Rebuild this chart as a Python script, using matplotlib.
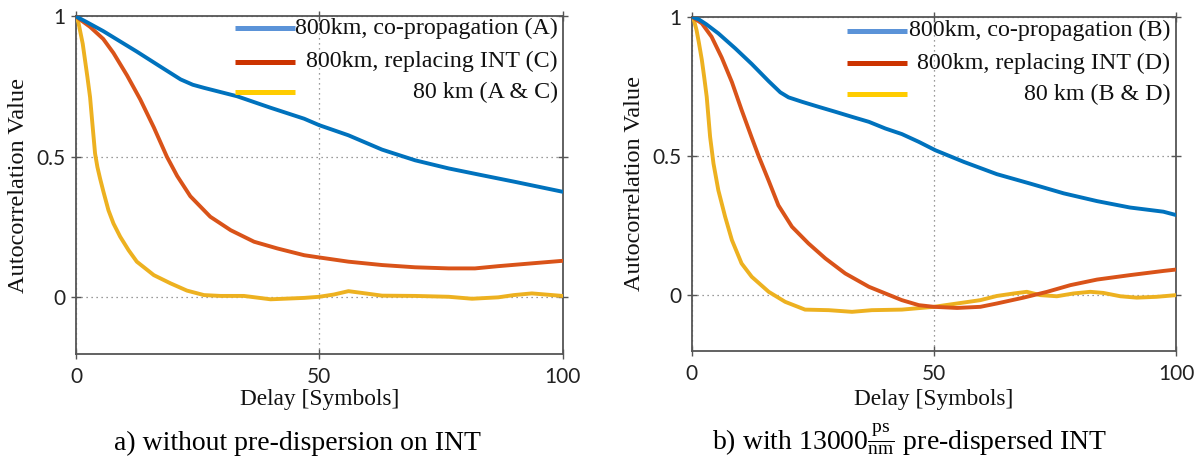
import matplotlib
matplotlib.use("Agg")
import matplotlib.pyplot as plt

# ---------------- data ----------------
# Panel a) without pre-dispersion on INT
a_copro_x = [0, 2, 5.6, 9, 12.5, 17.3, 21.5, 24, 26.3, 33.1, 40, 46.9, 50, 56, 62.9, 69.7, 76.6, 83.4, 90.3, 100]
a_copro_y = [1, 0.982, 0.948, 0.912, 0.875, 0.822, 0.776, 0.757, 0.746, 0.716, 0.675, 0.636, 0.613, 0.577, 0.526, 0.488, 0.459, 0.435, 0.411, 0.376]

a_repl_x = [0, 2.9, 5.6, 7.7, 10.5, 13.2, 16, 18.7, 20.8, 23.5, 27.6, 31.8, 36.6, 41.4, 46.9, 50, 56, 62.9, 69.7, 76.6, 82, 86.8, 93.7, 100]
a_repl_y = [1, 0.963, 0.92, 0.87, 0.79, 0.705, 0.605, 0.5, 0.432, 0.36, 0.287, 0.239, 0.198, 0.174, 0.150, 0.142, 0.127, 0.115, 0.107, 0.103, 0.103, 0.111, 0.121, 0.130]

a_80_x = [0, 0.48, 0.83, 1.38, 1.86, 2.34, 2.89, 3.37, 3.92, 4.4, 4.95, 5.64, 6.67, 7.7, 9.08, 10.8, 12.5, 16, 19.4, 22.8, 26.3, 29.7, 34.5, 40, 46.9, 50, 53, 56, 59.5, 62.9, 69.7, 76.6, 81.4, 86.8, 90, 93.7, 100]
a_80_y = [1, 0.98, 0.95, 0.903, 0.844, 0.785, 0.713, 0.618, 0.512, 0.464, 0.423, 0.376, 0.310, 0.263, 0.216, 0.168, 0.127, 0.079, 0.050, 0.024, 0.008, 0.005, 0.005, -0.007, -0.002, 0.002, 0.010, 0.022, 0.014, 0.006, 0.005, 0.002, -0.005, 0.0, 0.008, 0.014, 0.005]

# Panel b) with 13000 ps/nm pre-dispersed INT
b_copro_x = [0, 1.5, 3, 5.5, 9, 12.4, 15.9, 18.3, 20, 22.8, 26.2, 29.7, 33.1, 36.6, 40, 43.4, 46.9, 50.3, 56.2, 63, 69.9, 76.8, 83.7, 90.5, 97.4, 100]
b_copro_y = [1, 0.99, 0.973, 0.940, 0.886, 0.830, 0.768, 0.728, 0.710, 0.694, 0.676, 0.658, 0.640, 0.622, 0.598, 0.578, 0.550, 0.520, 0.478, 0.434, 0.400, 0.365, 0.337, 0.314, 0.299, 0.287]

b_repl_x = [0, 2.1, 4.1, 6.2, 8.3, 10.3, 12.4, 13.8, 15.9, 17.9, 20.7, 24.1, 27.6, 31.7, 36.6, 40, 43.4, 46.9, 50, 54.8, 59.6, 63, 68.5, 73.4, 78.2, 83.7, 90.5, 97.4, 100]
b_repl_y = [1, 0.976, 0.928, 0.853, 0.765, 0.665, 0.565, 0.5, 0.41, 0.322, 0.245, 0.185, 0.131, 0.077, 0.029, 0.005, -0.019, -0.037, -0.043, -0.047, -0.043, -0.031, -0.010, 0.011, 0.035, 0.055, 0.071, 0.086, 0.091]

b_80_x = [0, 0.5, 1, 1.5, 2.1, 2.6, 3.1, 3.8, 4.5, 5.5, 6.9, 8.3, 10.3, 12.4, 15.9, 19.3, 23.4, 28.3, 33.1, 37.2, 43.4, 50, 54.8, 59.6, 63, 66.5, 69.2, 72, 75.4, 78.8, 82.3, 85, 88.5, 91.9, 96, 100]
b_80_y = [1, 0.985, 0.952, 0.905, 0.844, 0.78, 0.712, 0.568, 0.472, 0.376, 0.281, 0.197, 0.113, 0.065, 0.011, -0.025, -0.053, -0.055, -0.061, -0.055, -0.053, -0.043, -0.031, -0.019, -0.004, 0.005, 0.011, -0.001, -0.005, 0.005, 0.011, 0.007, -0.005, -0.010, -0.007, -0.001]

legend_a = ["800km, co-propagation (A)", "800km, replacing INT (C)", "80 km (A & C)"]
legend_b = ["800km, co-propagation (B)", "800km, replacing INT (D)", "80 km (B & D)"]
caption_a = "a) without pre-dispersion on INT"
caption_b = r"b) with 13000$\frac{\mathrm{ps}}{\mathrm{nm}}$ pre-dispersed INT"
x_ticks = [0, 50, 100]
y_ticks = [0, 0.5, 1]
y_tick_labels = ["0", "0.5", "1"]

# ---------------- style ----------------
plt.rcParams["mathtext.fontset"] = "custom"
plt.rcParams["mathtext.rm"] = "Liberation Serif"
plt.rcParams["mathtext.it"] = "Liberation Serif:italic"

SERIF = "Liberation Serif"
TICKFONT = "Lato"
TEXT_COLOR = "#111111"
AXIS_COLOR = "#555555"

curve_colors = ["#0072BD", "#D95319", "#EDB120"]
handle_colors = ["#5B93D8", "#CC3300", "#FFCC00"]

W, H = 1198, 461
fig = plt.figure(figsize=(W / 100, H / 100), dpi=100)


def px_axes(left, top, right, bottom):
    return [left / W, 1 - bottom / H, (right - left) / W, (bottom - top) / H]


ax1 = fig.add_axes(px_axes(76, 16.5, 562.5, 353.5))
ax2 = fig.add_axes(px_axes(691.7, 16.7, 1176, 350.5))


def style_axes(ax):
    ax.set_xlim(0, 100)
    ax.set_ylim(-0.2, 1)
    ax.set_xticks(x_ticks)
    ax.set_yticks(y_ticks)
    ax.set_yticklabels(y_tick_labels)
    ax.grid(True, linestyle=(0, (1, 3)), color="#7a7a7a", linewidth=0.9)
    ax.set_axisbelow(True)
    for s in ax.spines.values():
        s.set_color(AXIS_COLOR)
        s.set_linewidth(1.3)
    ax.tick_params(axis="both", which="both", direction="inout", length=7,
                   width=1.0, color=AXIS_COLOR, top=True, right=True,
                   labelsize=15, labelcolor="#222222")
    ax.tick_params(axis="x", pad=6)
    ax.tick_params(axis="y", pad=4)
    for lab in ax.get_xticklabels() + ax.get_yticklabels():
        lab.set_fontfamily(TICKFONT)
    ax.set_xlabel("Delay [Symbols]", fontsize=16.8, fontfamily=SERIF, color=TEXT_COLOR)
    ax.set_ylabel("Autocorrelation Value", fontsize=17.5, fontfamily=SERIF, color=TEXT_COLOR)


def draw_legend(ax, labels, hx0, hx1, rows, text_x):
    for lab, y, c in zip(labels, rows, handle_colors):
        ax.plot([hx0, hx1], [y, y], transform=ax.transAxes, color=c,
                linewidth=3.6, solid_capstyle="butt", zorder=5)
        ax.text(text_x, y, lab, transform=ax.transAxes, ha="right", va="center",
                fontsize=17.3, fontfamily=SERIF, color=TEXT_COLOR, zorder=6)


panels = [
    (ax1, [(a_copro_x, a_copro_y), (a_repl_x, a_repl_y), (a_80_x, a_80_y)]),
    (ax2, [(b_copro_x, b_copro_y), (b_repl_x, b_repl_y), (b_80_x, b_80_y)]),
]
for ax, series in panels:
    style_axes(ax)
    for (xs, ys), c in zip(series[::-1], curve_colors[::-1]):
        ax.plot(xs, ys, color=c, linewidth=2.8, solid_joinstyle="round",
                solid_capstyle="round", zorder=3)

# axis-label placement (pixel offsets converted to axes fractions)
ax1.xaxis.set_label_coords(0.5, -(399 - 353.5) / 337)
ax2.xaxis.set_label_coords(0.5, -(399 - 350.5) / 333.8)
ax1.yaxis.set_label_coords(-(76 - 19) / 486.5, 0.5)
ax2.yaxis.set_label_coords(-(691.7 - 634.7) / 484.3, 0.5)
for ax in (ax1, ax2):
    ax.xaxis.label.set_va("center")
    ax.yaxis.label.set_va("center")

draw_legend(ax1, legend_a, 0.327, 0.450, [0.965, 0.866, 0.775], 0.990)
draw_legend(ax2, legend_b, 0.321, 0.444, [0.958, 0.860, 0.768], 0.988)

fig.text(297 / W, 1 - 450 / H, caption_a, ha="center", va="baseline",
         fontsize=20, fontfamily=SERIF, color="#000000")
fig.text(910 / W, 1 - 450 / H, caption_b, ha="center", va="baseline",
         fontsize=20, fontfamily=SERIF, color="#000000")

fig.savefig("out.png", dpi=100)
